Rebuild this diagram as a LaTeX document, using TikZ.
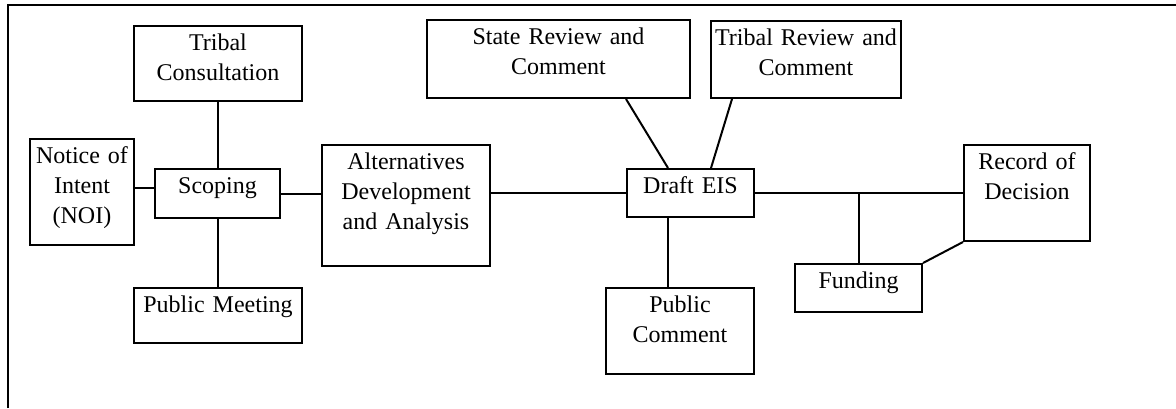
\documentclass[tikz,border=0pt]{standalone}
\usepackage{fontspec}
\setmainfont{Liberation Serif}
\begin{document}
\begin{tikzpicture}
    [%%%%%%%%%%%%%%%%%%%%%%%%%%%%%%
        x=0.5pt, y=-0.5pt,
        box/.style={rectangle,draw=black,line width=1pt,inner sep=0pt,align=center,
                    text height=12pt,font=\fontsize{12pt}{15pt}\selectfont,anchor=north west},
        link/.style={draw=black,line width=1pt},
    ]%%%%%%%%%%%%%%%%%%%%%%%%%%%%%%
\useasboundingbox (0,0) rectangle (1176,408);
\draw[line width=1pt] (8,408) -- (8,4.5) -- (1176,4.5);

\node[box, text width=84pt, text depth=25.5pt] (tribcon) at (133,25) {Tribal\\Consultation};
\node[box, text width=52pt, text depth=41pt] (noi) at (29,138) {Notice of\\Intent\\(NOI)};
\node[box, text width=62.5pt, text depth=12.5pt] (scoping) at (154,168) {Scoping};
\node[box, text width=84pt, text depth=15.5pt] (pubmeet) at (133,287) {Public Meeting};
\node[box, text width=84pt, text depth=48.5pt] (alt) at (321,144) {Alternatives\\Development\\and Analysis};

\node[box, text width=131.5pt, text depth=27pt] (state) at (426,19) {State Review and\\Comment};
\node[box, text width=95pt, text depth=26.5pt] (tribrev) at (710,20) {Tribal Review and\\Comment};
\node[box, text width=63.5pt, text depth=12pt] (draft) at (626,168) {Draft EIS};
\node[box, text width=74pt, text depth=31pt] (pubcom) at (605,287) {Public\\Comment};
\node[box, text width=63.5pt, text depth=12pt] (funding) at (794,263) {Funding};
\node[box, text width=63pt, text depth=36pt] (rod) at (963,144) {Record of\\Decision};

\draw[link] (tribcon.south) -- (tribcon.south |- scoping.north);
\draw[link] ([yshift=3pt]scoping.west -| noi.east) -- ([yshift=3pt]scoping.west);
\draw[link] (scoping.south) -- (scoping.south |- pubmeet.north);
\draw[link] (scoping.east) -- (scoping.east -| alt.west);
\draw[link] (alt.east |- draft.west) -- (draft.west);

\draw[link] ([xshift=100pt]state.south west) -- ([xshift=21pt]draft.north west);
\draw[link] ([xshift=11pt]tribrev.south west) -- ([xshift=42.5pt]draft.north west);
\draw[link] ([xshift=21pt]draft.south west) -- ([xshift=21pt]draft.south west |- pubcom.north);
\draw[link] (draft.east) -- (draft.east -| rod.west);
\draw[link] (funding.north) -- (funding.north |- draft.east);
\draw[link] (funding.north east) -- (rod.south west);

\end{tikzpicture}
\end{document}
